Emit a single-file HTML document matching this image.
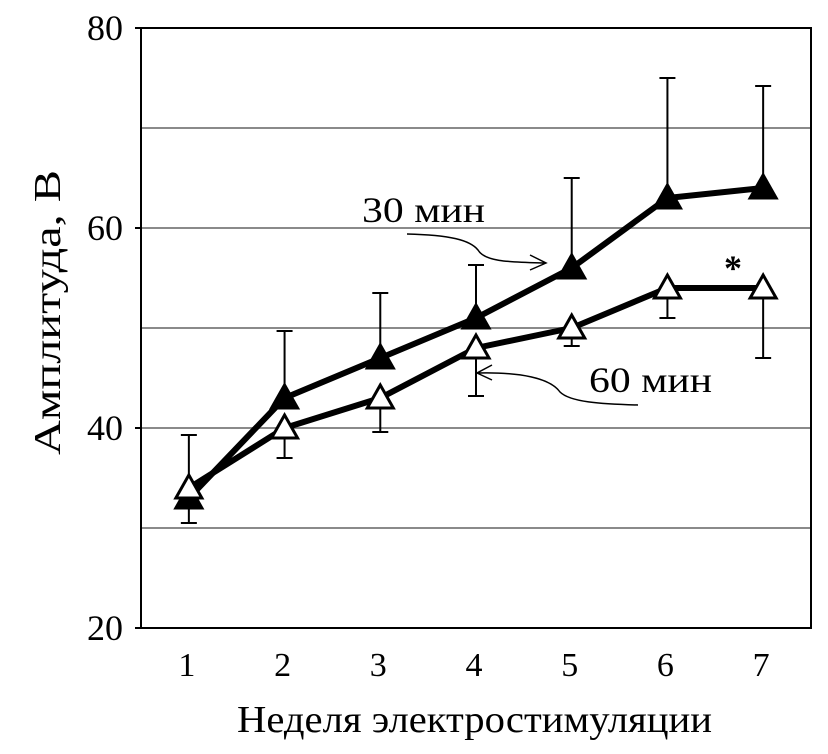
<!DOCTYPE html>
<html><head><meta charset="utf-8"><style>
html,body{margin:0;padding:0;background:#fff;}
svg{display:block;}
text{font-family:"Liberation Serif",serif;fill:#000;}
</style></head><body>
<svg id="chart" width="828" height="754" viewBox="0 0 828 754"></svg>
<script>
const categories = [1,2,3,4,5,6,7];
const yTicks = [20,40,60,80];
const gridVals = [30,40,50,60,70];
const series30 = [33,43,47,51,56,63,64];
const err30Top = [39.3,49.7,53.5,56.3,65,75,74.2];
const series60 = [34,40,43,48,50,54,54];
const err60Bottom = [30.5,37,39.6,43.2,48.2,51,47];

const NS='http://www.w3.org/2000/svg';
const svg=document.getElementById('chart');
const L=141,R=811,T=28,B=628,yMin=20,yMax=80;
const slot=(R-L)/categories.length;
const xPos=i=>L+slot*(i+0.5);
const yPos=v=>B-(v-yMin)/(yMax-yMin)*(B-T);
function mk(tag,attrs,parent){const e=document.createElementNS(NS,tag);for(const k in attrs)e.setAttribute(k,attrs[k]);(parent||svg).appendChild(e);return e;}

const grid=mk('g',{});


gridVals.forEach(v=>{const l=mk('line',{x1:L,x2:R,y1:yPos(v),y2:yPos(v),stroke:'#8a8a8a','stroke-width':2},grid);

});

const frame=mk('rect',{x:L,y:T,width:R-L,height:B-T,fill:'none',stroke:'#000','stroke-width':2});



yTicks.forEach(v=>{const t=mk('text',{x:123,y:yPos(v)+12,'text-anchor':'end','font-size':36});t.textContent=v;


const tk=mk('line',{x1:L-6,x2:L,y1:yPos(v),y2:yPos(v),stroke:'#000','stroke-width':2});

});
categories.forEach((c,i)=>{const t=mk('text',{x:xPos(i)-2,y:676,'text-anchor':'middle','font-size':34});t.textContent=c;

});

const xt=mk('text',{x:237,y:732,'font-size':38,textLength:475,lengthAdjust:'spacingAndGlyphs'});xt.textContent='Неделя электростимуляции';


const yt=mk('text',{x:0,y:0,'font-size':38,textLength:285,lengthAdjust:'spacingAndGlyphs',transform:'translate(60,455) rotate(-90)'});yt.textContent='Амплитуда, В';



function errBar(i,v,e,name){const x=xPos(i);const g=mk('g',{stroke:'#000','stroke-width':2});


mk('line',{x1:x,x2:x,y1:yPos(v),y2:yPos(e)},g);mk('line',{x1:x-8,x2:x+8,y1:yPos(e),y2:yPos(e)},g);}
series30.forEach((v,i)=>errBar(i,v,err30Top[i],'error-bar-30min'));
series60.forEach((v,i)=>errBar(i,v,err60Bottom[i],'error-bar-60min'));

function line(vals,name){const p=mk('polyline',{points:vals.map((v,i)=>xPos(i)+','+yPos(v)).join(' '),fill:'none',stroke:'#000','stroke-width':6,'stroke-linejoin':'round'});

}
line(series30,'line-30min');line(series60,'line-60min');

function tri(x,y,fill,name){const p=mk('polygon',{points:`${x},${y-13} ${x-13},${y+10} ${x+13},${y+10}`,fill:fill,stroke:'#000','stroke-width':3});

}
series30.forEach((v,i)=>tri(xPos(i),yPos(v),'#000','marker-30min'));
series60.forEach((v,i)=>tri(xPos(i),yPos(v),'#fff','marker-60min'));

const l30=mk('text',{x:362,y:222,'font-size':36,textLength:123,lengthAdjust:'spacingAndGlyphs'});l30.textContent='30 мин';


const a1=mk('path',{d:'M407,234 C450,235 470,240 478,250 C485,262 510,262 545,263 M530,255 L546,263 L530,270',fill:'none',stroke:'#000','stroke-width':1.5});


const l60=mk('text',{x:589,y:392,'font-size':36,textLength:123,lengthAdjust:'spacingAndGlyphs'});l60.textContent='60 мин';


const a2=mk('path',{d:'M638,405 C600,404 570,402 560,392 C550,378 520,372 478,373 M492,365 L477,373 L492,380',fill:'none',stroke:'#000','stroke-width':1.5});


const st=mk('text',{x:733,y:280,'text-anchor':'middle','font-size':36,'font-weight':'bold'});st.textContent='*';


</script>
</body></html>
